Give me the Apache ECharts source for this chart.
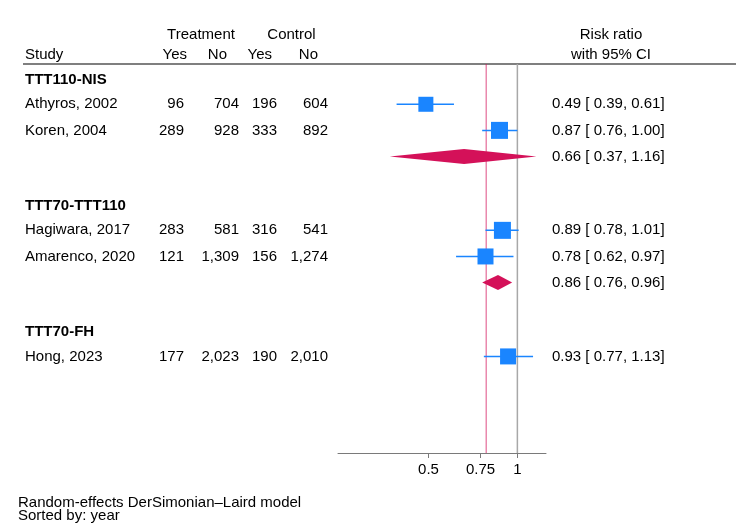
<!DOCTYPE html>
<html lang="en">
<head>
<meta charset="UTF-8" />
<title>Forest plot</title>
<script src="https://cdn.jsdelivr.net/npm/echarts@6/dist/echarts.min.js"></script>
<style>
  html, body { margin: 0; padding: 0; background: #fff; }
  #main { width: 736px; height: 523px; }
</style>
</head>
<body>
<div id="main"></div>
<script>
// subgroups and studies
var groups = ['TTT110-NIS', 'TTT70-TTT110', 'TTT70-FH'];
var studies = ['Athyros, 2002', 'Koren, 2004', 'Hagiwara, 2017', 'Amarenco, 2020', 'Hong, 2023'];
var studyGroup = [0, 0, 1, 1, 2];
var treatYes = [96, 289, 283, 121, 177];
var treatNo = [704, 928, 581, 1309, 2023];
var ctrlYes = [196, 333, 316, 156, 190];
var ctrlNo = [604, 892, 541, 1274, 2010];
var rr = [0.49, 0.87, 0.89, 0.78, 0.93];
var rrLow = [0.39, 0.76, 0.78, 0.62, 0.77];
var rrHigh = [0.61, 1.00, 1.01, 0.97, 1.13];
// pooled estimate per subgroup (only groups with >1 study)
var poolGroup = [0, 1];
var poolRR = [0.66, 0.86];
var poolLow = [0.37, 0.76];
var poolHigh = [1.16, 0.96];
var overallRR = 0.784;
var axisTicks = [0.5, 0.75, 1];
var axisMin = 0.247, axisMax = 1.25;

// styling
var boxSize = [15, 17, 17, 16, 16];
var FONT = '15px "Liberation Sans", Arial, sans-serif';
var BOLD = 'bold 15px "Liberation Sans", Arial, sans-serif';
var BLUE = '#1a85ff', RED = '#d41159';
var colX = { label: 25, tYes: 184, tNo: 239, cYes: 277, cNo: 328, ci: 552 };
var headGap = 0.93, blankGap = 1.9;

// row layout: group header, studies, pooled diamond, blank line
var row = 0, groupRow = [], studyRow = [], poolRow = [];
groups.forEach(function (g, gi) {
  groupRow.push(row);
  row += headGap;
  var first = true;
  studies.forEach(function (s, si) {
    if (studyGroup[si] !== gi) return;
    if (!first) row += 1;
    studyRow[si] = row;
    first = false;
  });
  var pi = poolGroup.indexOf(gi);
  if (pi >= 0) { row += 1; poolRow[pi] = row; }
  row += blankGap;
});

function f2(v) { return v.toFixed(2); }
function num(v) { return v.toLocaleString('en-US'); }
function ciText(e, l, h) { return f2(e) + ' [ ' + f2(l) + ', ' + f2(h) + ']'; }

var tableText = [];
groups.forEach(function (g, gi) {
  tableText.push({ x: colX.label, row: groupRow[gi], text: g, align: 'left', bold: true });
});
studies.forEach(function (s, i) {
  var r = studyRow[i];
  tableText.push({ x: colX.label, row: r, text: s, align: 'left' });
  tableText.push({ x: colX.tYes, row: r, text: num(treatYes[i]), align: 'right' });
  tableText.push({ x: colX.tNo, row: r, text: num(treatNo[i]), align: 'right' });
  tableText.push({ x: colX.cYes, row: r, text: num(ctrlYes[i]), align: 'right' });
  tableText.push({ x: colX.cNo, row: r, text: num(ctrlNo[i]), align: 'right' });
  tableText.push({ x: colX.ci, row: r, text: ciText(rr[i], rrLow[i], rrHigh[i]), align: 'left' });
});
poolRR.forEach(function (v, i) {
  tableText.push({ x: colX.ci, row: poolRow[i], text: ciText(v, poolLow[i], poolHigh[i]), align: 'left' });
});

function renderText(params, api) {
  var t = tableText[params.dataIndex];
  var p = api.coord([api.value(0), api.value(1)]);
  return {
    type: 'text', x: p[0], y: p[1],
    style: { text: t.text, font: t.bold ? BOLD : FONT, fill: '#000', align: t.align, verticalAlign: 'middle' }
  };
}

function renderStudy(params, api) {
  var y = api.value(3);
  var lo = api.coord([api.value(0), y]);
  var hi = api.coord([api.value(1), y]);
  var c = api.coord([api.value(2), y]);
  var s = boxSize[params.dataIndex];
  return {
    type: 'group',
    children: [
      { type: 'line', shape: { x1: lo[0], y1: lo[1], x2: hi[0], y2: hi[1] }, style: { stroke: BLUE, lineWidth: 1.5 } },
      { type: 'rect', shape: { x: c[0] - s / 2, y: c[1] - s / 2, width: s, height: s }, style: { fill: BLUE } }
    ]
  };
}

function renderDiamond(params, api) {
  var y = api.value(3);
  var lo = api.coord([api.value(0), y]);
  var hi = api.coord([api.value(1), y]);
  var c = api.coord([api.value(2), y]);
  var h = 7.5;
  return {
    type: 'polygon',
    shape: { points: [[lo[0], lo[1]], [c[0], c[1] - h], [hi[0], hi[1]], [c[0], c[1] + h]] },
    style: { fill: RED }
  };
}

function renderRef(params, api) {
  var cs = params.coordSys;
  var x = api.coord([api.value(0), 0])[0];
  var overall = params.dataIndex === 0;
  return {
    type: 'line',
    shape: { x1: x, y1: cs.y, x2: x, y2: cs.y + cs.height },
    style: overall ? { stroke: RED, lineWidth: 1, opacity: 0.75 } : { stroke: '#a8a8a8', lineWidth: 1.5 }
  };
}

var ln = Math.log;
var yAxisCommon = { type: 'value', inverse: true, min: -0.613, max: 14.29, show: false };

function hdr(text, x, y, align, font) {
  return { type: 'text', x: x, y: y, silent: true,
    style: { text: text, font: font || FONT, fill: '#000', align: align, verticalAlign: 'middle' } };
}

var option = {
  animation: false,
  backgroundColor: '#fff',
  grid: [
    { left: 338, right: 190, top: 64, bottom: 70, outerBoundsMode: 'none' },
    { left: 0, right: 0, top: 64, bottom: 70, outerBoundsMode: 'none' }
  ],
  xAxis: [
    {
      type: 'value', gridIndex: 0, min: ln(axisMin), max: ln(axisMax),
      axisLine: { show: true, onZero: false, lineStyle: { color: '#7a7a7a', width: 1 } },
      axisTick: { show: true, length: 5, customValues: axisTicks.map(ln), lineStyle: { color: '#7a7a7a' } },
      axisLabel: {
        show: true, margin: 9, color: '#000', fontSize: 15, fontFamily: '"Liberation Sans", Arial, sans-serif',
        customValues: axisTicks.map(ln),
        formatter: function (v) { return String(+Math.exp(v).toFixed(2)); }
      },
      splitLine: { show: false }
    },
    { type: 'value', gridIndex: 1, min: 0, max: 736, show: false }
  ],
  yAxis: [
    Object.assign({ gridIndex: 0 }, yAxisCommon),
    Object.assign({ gridIndex: 1 }, yAxisCommon)
  ],
  graphic: [
    hdr('Treatment', 201, 35, 'center'),
    hdr('Control', 291.5, 35, 'center'),
    hdr('Study', 25, 55, 'left'),
    hdr('Yes', 187, 55, 'right'),
    hdr('No', 227, 55, 'right'),
    hdr('Yes', 272, 55, 'right'),
    hdr('No', 318, 55, 'right'),
    hdr('Risk ratio', 611, 35, 'center'),
    hdr('with 95% CI', 611, 55, 'center'),
    { type: 'line', silent: true, shape: { x1: 23, y1: 64, x2: 736, y2: 64 }, style: { stroke: '#000', lineWidth: 1.2 } },
    hdr('Random-effects DerSimonian\u2013Laird model', 18, 503, 'left'),
    hdr('Sorted by: year', 18, 515.5, 'left')
  ],
  series: [
    {
      type: 'custom', xAxisIndex: 0, yAxisIndex: 0, z: 1,
      renderItem: renderRef,
      data: [[ln(overallRR)], [ln(1)]]
    },
    {
      type: 'custom', xAxisIndex: 0, yAxisIndex: 0, z: 2,
      renderItem: renderStudy,
      data: rr.map(function (v, i) { return [ln(rrLow[i]), ln(rrHigh[i]), ln(v), studyRow[i]]; })
    },
    {
      type: 'custom', xAxisIndex: 0, yAxisIndex: 0, z: 2,
      renderItem: renderDiamond,
      data: poolRR.map(function (v, i) { return [ln(poolLow[i]), ln(poolHigh[i]), ln(v), poolRow[i]]; })
    },
    {
      type: 'custom', xAxisIndex: 1, yAxisIndex: 1, z: 3,
      renderItem: renderText,
      data: tableText.map(function (t) { return [t.x, t.row]; })
    }
  ]
};

var chart = echarts.init(document.getElementById('main'));
chart.setOption(option);
</script>
</body>
</html>
